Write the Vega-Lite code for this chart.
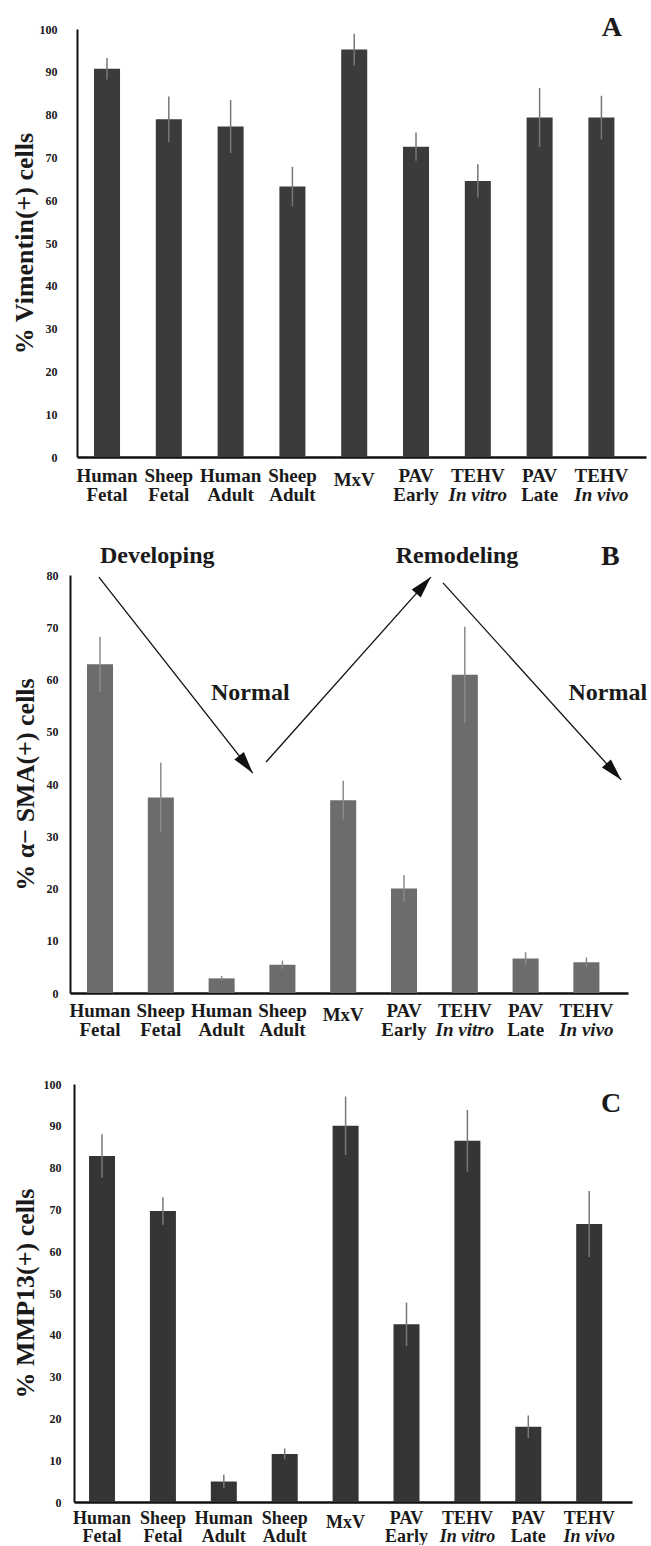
{
  "$schema": "https://vega.github.io/schema/vega-lite/v6.json",
  "padding": {"left": 11, "top": 13, "right": 0, "bottom": 0},
  "background": "white",
  "config": {
    "view": {"stroke": null},
    "font": "Liberation Serif",
    "axis": {"labelFont": "Liberation Serif", "labelFontWeight": "bold", "labelColor": "#1a1a1a", "titleFont": "Liberation Serif", "titleFontWeight": "bold", "titleColor": "#1a1a1a", "labelOverlap": false, "labelBound": false, "labelLimit": 300, "grid": false, "ticks": false, "domainColor": "#111111"},
    "axisX": {"labelFontSize": 19, "labelAngle": 0},
    "axisY": {"labelFontSize": 12, "titleFontSize": 26, "domainWidth": 2},
    "text": {"font": "Liberation Serif", "fontWeight": "bold", "color": "#1a1a1a"}
  },
  "datasets": {
    "vim": [
      {"cat": "Human|Fetal", "v": 90.7, "e": 2.5},
      {"cat": "Sheep|Fetal", "v": 78.9, "e": 5.3},
      {"cat": "Human|Adult", "v": 77.2, "e": 6.2},
      {"cat": "Sheep|Adult", "v": 63.2, "e": 4.6},
      {"cat": "MxV", "v": 95.2, "e": 3.7},
      {"cat": "PAV|Early", "v": 72.5, "e": 3.3},
      {"cat": "TEHV|In vitro", "v": 64.5, "e": 3.9},
      {"cat": "PAV|Late", "v": 79.3, "e": 6.9},
      {"cat": "TEHV|In vivo", "v": 79.3, "e": 5.1}
    ],
    "sma": [
      {"cat": "Human|Fetal", "v": 62.9, "e": 5.3},
      {"cat": "Sheep|Fetal", "v": 37.4, "e": 6.7},
      {"cat": "Human|Adult", "v": 2.8, "e": 0.45},
      {"cat": "Sheep|Adult", "v": 5.4, "e": 0.8},
      {"cat": "MxV", "v": 36.9, "e": 3.7},
      {"cat": "PAV|Early", "v": 20.0, "e": 2.6},
      {"cat": "TEHV|In vitro", "v": 60.9, "e": 9.2},
      {"cat": "PAV|Late", "v": 6.6, "e": 1.2},
      {"cat": "TEHV|In vivo", "v": 5.9, "e": 0.9}
    ],
    "mmp": [
      {"cat": "Human|Fetal", "v": 82.8, "e": 5.2},
      {"cat": "Sheep|Fetal", "v": 69.6, "e": 3.3},
      {"cat": "Human|Adult", "v": 4.9, "e": 1.6},
      {"cat": "Sheep|Adult", "v": 11.5, "e": 1.3},
      {"cat": "MxV", "v": 90.0, "e": 7.0},
      {"cat": "PAV|Early", "v": 42.5, "e": 5.2},
      {"cat": "TEHV|In vitro", "v": 86.4, "e": 7.4},
      {"cat": "PAV|Late", "v": 18.0, "e": 2.7},
      {"cat": "TEHV|In vivo", "v": 66.5, "e": 7.9}
    ],
    "letters": [
      {"panel": "A", "label": "A", "pos": 9.17, "y": 98.4},
      {"panel": "B", "label": "B", "pos": 9.40, "y": 81.9},
      {"panel": "C", "label": "C", "pos": 9.36, "y": 93.3}
    ],
    "words": [
      {"label": "Developing", "pos": 1.95, "y": 82.3},
      {"label": "Remodeling", "pos": 6.88, "y": 82.3},
      {"label": "Normal", "pos": 3.48, "y": 56.1},
      {"label": "Normal", "pos": 9.36, "y": 56.1}
    ],
    "arrows": [
      {"id": 1, "x1": 0.99, "y1": 79.6, "x2": 3.52, "y2": 42.1},
      {"id": 2, "x1": 3.74, "y1": 44.2, "x2": 6.45, "y2": 79.6},
      {"id": 3, "x1": 6.65, "y1": 78.5, "x2": 9.58, "y2": 40.8}
    ]
  },
  "spacing": 39,
  "vconcat": [
    {
      "width": 576, "height": 428,
      "resolve": {"scale": {"x": "independent"}, "axis": {"x": "independent"}},
      "layer": [
        {
          "data": {"name": "vim"},
          "mark": {"type": "bar", "color": "#3b3b3b"},
          "encoding": {
            "x": {"field": "cat", "type": "nominal", "sort": null, "scale": {"range": [7, 576], "paddingInner": 0.579, "paddingOuter": 0.393, "align": 0.35},
              "axis": {"orient": "bottom", "title": null, "labelPadding": {"condition": {"test": "datum.value === 'MxV'", "value": 13}, "value": 9}, "labelExpr": "split(datum.value, '|')[0]", "domainWidth": 2.5}},
            "y": {"field": "v", "type": "quantitative", "scale": {"domain": [0, 100]}, "title": "% Vimentin(+) cells",
              "axis": {"values": [0, 10, 20, 30, 40, 50, 60, 70, 80, 90, 100], "offset": -7, "labelPadding": 20, "titlePadding": 2}}
          }
        },
        {
          "data": {"name": "vim"},
          "mark": {"type": "errorbar", "color": "#777777", "thickness": 1.5},
          "encoding": {
            "x": {"field": "cat", "type": "nominal", "sort": null, "scale": {"range": [7, 576], "paddingInner": 0.579, "paddingOuter": 0.393, "align": 0.35},
              "axis": {"orient": "bottom", "title": null, "domain": false, "labelPadding": 28, "labelExpr": "indexof(datum.value, '|') > 0 ? split(datum.value, '|')[1] : ''",
                "labelFontStyle": {"condition": {"test": "indexof(datum.value, 'TEHV') === 0", "value": "italic"}, "value": "normal"}}},
            "y": {"field": "v", "type": "quantitative", "scale": {"domain": [0, 100]}, "title": "% Vimentin(+) cells"},
            "yError": {"field": "e"}
          }
        },
        {
          "data": {"name": "letters"},
          "transform": [{"filter": "datum.panel === 'A'"}],
          "mark": {"type": "text", "fontSize": 28, "align": "center", "baseline": "alphabetic"},
          "encoding": {
            "x": {"field": "pos", "type": "quantitative", "scale": {"domain": [0.5146, 9.7217], "range": [7, 576], "nice": false, "zero": false}, "axis": null},
            "y": {"field": "y", "type": "quantitative", "scale": {"domain": [0, 100]}, "title": "% Vimentin(+) cells"},
            "text": {"field": "label"}
          }
        }
      ]
    },
    {
      "spacing": 39,
      "vconcat": [
        {
          "width": 558, "height": 418,
          "resolve": {"scale": {"x": "independent"}, "axis": {"x": "independent"}},
          "layer": [
            {
              "data": {"name": "sma"},
              "mark": {"type": "bar", "color": "#6c6c6c"},
              "encoding": {
                "x": {"field": "cat", "type": "nominal", "sort": null, "scale": {"paddingInner": 0.572, "paddingOuter": 0.375, "align": 0.373},
                  "axis": {"orient": "bottom", "title": null, "labelPadding": {"condition": {"test": "datum.value === 'MxV'", "value": 12}, "value": 8}, "labelExpr": "split(datum.value, '|')[0]", "domainWidth": 2.5}},
                "y": {"field": "v", "type": "quantitative", "scale": {"domain": [0, 80]}, "title": "% α− SMA(+) cells",
                  "axis": {"values": [0, 10, 20, 30, 40, 50, 60, 70, 80], "labelPadding": 12, "titlePadding": 8}}
              }
            },
            {
              "data": {"name": "sma"},
              "mark": {"type": "errorbar", "color": "#8a8a8a", "thickness": 1.5},
              "encoding": {
                "x": {"field": "cat", "type": "nominal", "sort": null, "scale": {"paddingInner": 0.572, "paddingOuter": 0.375, "align": 0.373},
                  "axis": {"orient": "bottom", "title": null, "domain": false, "labelPadding": 27, "labelExpr": "indexof(datum.value, '|') > 0 ? split(datum.value, '|')[1] : ''",
                    "labelFontStyle": {"condition": {"test": "indexof(datum.value, 'TEHV') === 0", "value": "italic"}, "value": "normal"}}},
                "y": {"field": "v", "type": "quantitative", "scale": {"domain": [0, 80]}, "title": "% α− SMA(+) cells"},
                "yError": {"field": "e"}
              }
            },
            {
              "data": {"name": "arrows"},
              "mark": {"type": "rule", "color": "#111111", "strokeWidth": 1.3},
              "encoding": {
                "x": {"field": "x1", "type": "quantitative", "scale": {"domain": [0.5148, 9.6924], "nice": false, "zero": false}, "axis": null},
                "x2": {"field": "x2"},
                "y": {"field": "y1", "type": "quantitative", "scale": {"domain": [0, 80]}, "title": "% α− SMA(+) cells"},
                "y2": {"field": "y2"}
              }
            },
            {
              "data": {"name": "arrows"},
              "transform": [{"filter": "datum.id === 1"}],
              "mark": {"type": "point", "shape": "M0,0L-0.55,2L0.55,2Z", "filled": true, "opacity": 1, "color": "#111111", "size": 484, "angle": 141.8, "strokeWidth": 0},
              "encoding": {
                "x": {"field": "x2", "type": "quantitative", "scale": {"domain": [0.5148, 9.6924], "nice": false, "zero": false}, "axis": null},
                "y": {"field": "y2", "type": "quantitative", "scale": {"domain": [0, 80]}, "title": "% α− SMA(+) cells"}
              }
            },
            {
              "data": {"name": "arrows"},
              "transform": [{"filter": "datum.id === 2"}],
              "mark": {"type": "point", "shape": "M0,0L-0.55,2L0.55,2Z", "filled": true, "opacity": 1, "color": "#111111", "size": 484, "angle": 41.7, "strokeWidth": 0},
              "encoding": {
                "x": {"field": "x2", "type": "quantitative", "scale": {"domain": [0.5148, 9.6924], "nice": false, "zero": false}, "axis": null},
                "y": {"field": "y2", "type": "quantitative", "scale": {"domain": [0, 80]}, "title": "% α− SMA(+) cells"}
              }
            },
            {
              "data": {"name": "arrows"},
              "transform": [{"filter": "datum.id === 3"}],
              "mark": {"type": "point", "shape": "M0,0L-0.55,2L0.55,2Z", "filled": true, "opacity": 1, "color": "#111111", "size": 484, "angle": 137.9, "strokeWidth": 0},
              "encoding": {
                "x": {"field": "x2", "type": "quantitative", "scale": {"domain": [0.5148, 9.6924], "nice": false, "zero": false}, "axis": null},
                "y": {"field": "y2", "type": "quantitative", "scale": {"domain": [0, 80]}, "title": "% α− SMA(+) cells"}
              }
            },
            {
              "data": {"name": "words"},
              "mark": {"type": "text", "fontSize": 24, "align": "center", "baseline": "alphabetic"},
              "encoding": {
                "x": {"field": "pos", "type": "quantitative", "scale": {"domain": [0.5148, 9.6924], "nice": false, "zero": false}, "axis": null},
                "y": {"field": "y", "type": "quantitative", "scale": {"domain": [0, 80]}, "title": "% α− SMA(+) cells"},
                "text": {"field": "label"}
              }
            },
            {
              "data": {"name": "letters"},
              "transform": [{"filter": "datum.panel === 'B'"}],
              "mark": {"type": "text", "fontSize": 28, "align": "center", "baseline": "alphabetic"},
              "encoding": {
                "x": {"field": "pos", "type": "quantitative", "scale": {"domain": [0.5148, 9.6924], "nice": false, "zero": false}, "axis": null},
                "y": {"field": "y", "type": "quantitative", "scale": {"domain": [0, 80]}, "title": "% α− SMA(+) cells"},
                "text": {"field": "label"}
              }
            }
          ]
        },
        {
          "width": 562, "height": 418,
          "resolve": {"scale": {"x": "independent"}, "axis": {"x": "independent"}},
          "layer": [
            {
              "data": {"name": "mmp"},
              "mark": {"type": "bar", "color": "#353535"},
              "encoding": {
                "x": {"field": "cat", "type": "nominal", "sort": null, "scale": {"range": [4, 562], "paddingInner": 0.573, "paddingOuter": 0.368, "align": 0.335},
                  "axis": {"orient": "bottom", "title": null, "labelFontSize": 18, "labelPadding": {"condition": {"test": "datum.value === 'MxV'", "value": 11}, "value": 7}, "labelExpr": "split(datum.value, '|')[0]", "domainWidth": 2.5}},
                "y": {"field": "v", "type": "quantitative", "scale": {"domain": [0, 100]}, "title": "% MMP13(+) cells",
                  "axis": {"values": [0, 10, 20, 30, 40, 50, 60, 70, 80, 90, 100], "offset": -4, "labelPadding": 13, "titlePadding": 5}}
              }
            },
            {
              "data": {"name": "mmp"},
              "mark": {"type": "errorbar", "color": "#777777", "thickness": 1.5},
              "encoding": {
                "x": {"field": "cat", "type": "nominal", "sort": null, "scale": {"range": [4, 562], "paddingInner": 0.573, "paddingOuter": 0.368, "align": 0.335},
                  "axis": {"orient": "bottom", "title": null, "domain": false, "labelFontSize": 18, "labelPadding": 25, "labelExpr": "indexof(datum.value, '|') > 0 ? split(datum.value, '|')[1] : ''",
                    "labelFontStyle": {"condition": {"test": "indexof(datum.value, 'TEHV') === 0", "value": "italic"}, "value": "normal"}}},
                "y": {"field": "v", "type": "quantitative", "scale": {"domain": [0, 100]}, "title": "% MMP13(+) cells"},
                "yError": {"field": "e"}
              }
            },
            {
              "data": {"name": "letters"},
              "transform": [{"filter": "datum.panel === 'C'"}],
              "mark": {"type": "text", "fontSize": 28, "align": "center", "baseline": "alphabetic"},
              "encoding": {
                "x": {"field": "pos", "type": "quantitative", "scale": {"domain": [0.5402, 9.7028], "range": [4, 562], "nice": false, "zero": false}, "axis": null},
                "y": {"field": "y", "type": "quantitative", "scale": {"domain": [0, 100]}, "title": "% MMP13(+) cells"},
                "text": {"field": "label"}
              }
            }
          ]
        }
      ]
    }
  ]
}
